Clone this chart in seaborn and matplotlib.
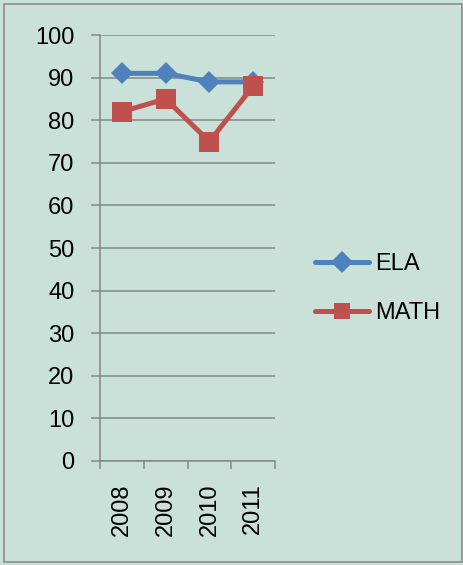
import seaborn as sns
import pandas as pd
import matplotlib.pyplot as plt
from matplotlib.patches import Rectangle
from matplotlib.ticker import FixedLocator

years = ["2008", "2009", "2010", "2011"]
ela = [91, 91, 89, 89]
math_scores = [82, 85, 75, 88]

bg = "#C9E1D9"
grid_c = "#868686"
blue = "#4F81BD"
red = "#C0504D"

df = pd.DataFrame({"Year": years * 2,
                   "Score": ela + math_scores,
                   "Subject": ["ELA"] * 4 + ["MATH"] * 4})
df["pos"] = df["Year"].map({y: i for i, y in enumerate(years)})

sns.set_style("white")
plt.rcParams["font.family"] = ["Liberation Sans", "DejaVu Sans"]
plt.rcParams["text.color"] = "black"

fig = plt.figure(figsize=(4.64, 5.65), dpi=100, facecolor=bg)
fig.patches.append(Rectangle((0.008, 0.005), 0.988, 0.988, transform=fig.transFigure,
                             fill=False, edgecolor="#8c8c8c", linewidth=1.2))
ax = fig.add_axes([0.2155, 0.1841, 0.3772, 0.7539])
ax.set_facecolor(bg)

sns.lineplot(ax=ax, data=df, x="pos", y="Score", hue="Subject", style="Subject",
             palette={"ELA": blue, "MATH": red},
             markers={"ELA": "D", "MATH": "s"}, dashes=False,
             linewidth=3.6, markersize=11, markeredgewidth=0)
for line, ms in zip(ax.lines[:2], [11, 14.5]):
    line.set_markersize(ms)

ax.set_xlim(-0.5, 3.5)
ax.set_ylim(0, 100)
ax.set_yticks(range(0, 101, 10))
ax.yaxis.grid(True, color=grid_c, linewidth=1.1)
ax.set_axisbelow(True)
ax.xaxis.set_major_locator(FixedLocator([-0.5, 0.5, 1.5, 2.5, 3.5]))
ax.xaxis.set_minor_locator(FixedLocator(range(4)))
ax.set_xticklabels([], minor=False)
ax.set_xticklabels(years, minor=True, rotation=90)
ax.tick_params(axis="x", which="major", length=6, width=1.1, color=grid_c, direction="out", bottom=True)
ax.tick_params(axis="x", which="minor", length=0, pad=16, labelsize=17, labelcolor="black", bottom=True)
ax.tick_params(axis="y", length=6.5, width=1.1, color=grid_c, pad=12, labelsize=17, labelcolor="black", left=True)
sns.despine(ax=ax, top=True, right=True)
for s in ["left", "bottom"]:
    ax.spines[s].set_color(grid_c)
    ax.spines[s].set_linewidth(1.1)
ax.set_xlabel("")
ax.set_ylabel("")

leg = ax.legend(loc="center left", bbox_to_anchor=(0.679, 0.489), bbox_transform=fig.transFigure,
                frameon=False, fontsize=17, handlelength=2.3, handletextpad=0.25,
                labelspacing=1.15, borderpad=0, borderaxespad=0)
for t in leg.get_texts():
    t.set_color("black")

fig.savefig("out.png", dpi=100, facecolor=bg)
